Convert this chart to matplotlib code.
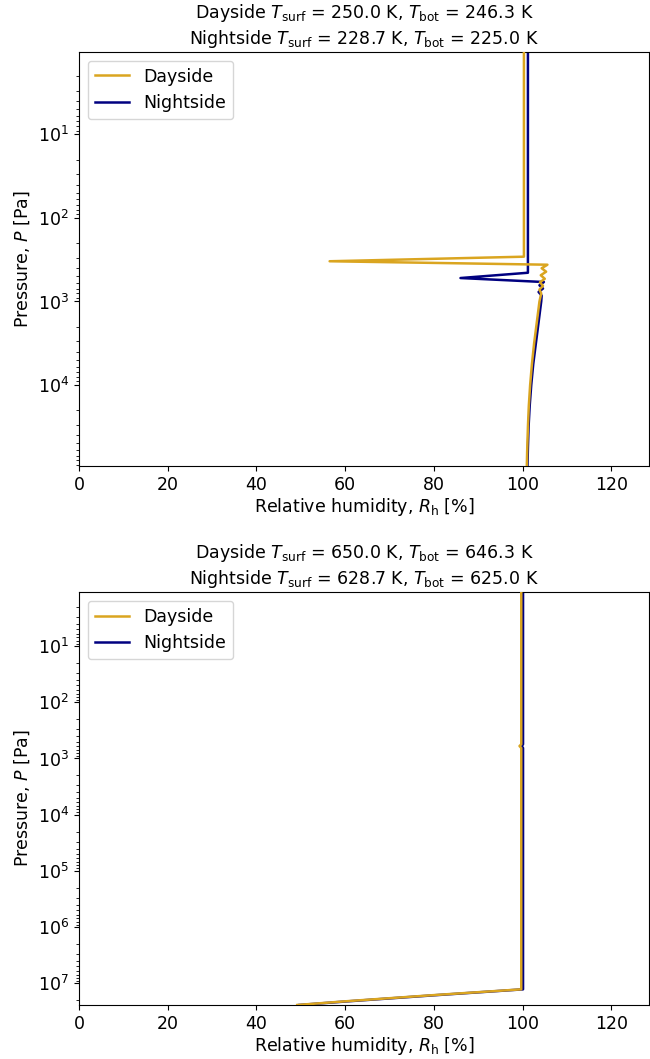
import matplotlib
matplotlib.use("Agg")
import matplotlib.pyplot as plt

# Cool case (T_surf = 250 K / 228.7 K)
cool_day_p = [1.03, 291, 330, 363, 400, 440, 485, 535, 590, 650, 720, 800,
              1000, 1780, 3160, 5620, 1.0e4, 1.78e4, 3.16e4, 5.62e4, 9.3e4]
cool_day_rh = [100.3, 100.3, 56.5, 105.6, 104.3, 105.3, 104.1, 105.0, 103.9,
               104.6, 103.8, 104.2, 103.8, 103.2, 102.6, 102.1, 101.7, 101.4,
               101.2, 101.05, 100.95]
cool_night_p = [1.03, 453, 524, 585, 640, 700, 770, 850, 1000, 1780, 3160,
                5620, 1.0e4, 1.78e4, 3.16e4, 5.62e4, 9.3e4]
cool_night_rh = [101.2, 101.2, 86.0, 104.8, 103.8, 104.6, 103.6, 104.3, 104.2,
                 103.6, 103.0, 102.4, 101.95, 101.6, 101.35, 101.2, 101.1]

# Hot case (T_surf = 650 K / 628.7 K)
hot_day_p = [1.09, 560, 600, 650, 1.28e7, 1.62e7, 2.09e7, 2.43e7]
hot_day_rh = [99.7, 99.7, 99.3, 99.7, 99.7, 80.0, 60.0, 49.2]
hot_night_p = [1.09, 560, 600, 650, 1.28e7, 1.63e7, 2.10e7, 2.43e7]
hot_night_rh = [100.1, 100.1, 99.8, 100.1, 100.1, 80.2, 60.3, 49.6]

titles = [
    "Dayside $T_\\mathrm{surf}$ = 250.0 K, $T_\\mathrm{bot}$ = 246.3 K\n"
    "Nightside $T_\\mathrm{surf}$ = 228.7 K, $T_\\mathrm{bot}$ = 225.0 K",
    "Dayside $T_\\mathrm{surf}$ = 650.0 K, $T_\\mathrm{bot}$ = 646.3 K\n"
    "Nightside $T_\\mathrm{surf}$ = 628.7 K, $T_\\mathrm{bot}$ = 625.0 K",
]

cases = [
    (cool_day_p, cool_day_rh, cool_night_p, cool_night_rh),
    (hot_day_p, hot_day_rh, hot_night_p, hot_night_rh),
]

plt.rcParams["font.size"] = 12.5

fig = plt.figure(figsize=(6.5, 10.59), dpi=100)
boxes = [[0.1215, 0.560, 0.877, 0.391], [0.1215, 0.051, 0.877, 0.390]]

for box, title, (dp, drh, np_, nrh) in zip(boxes, titles, cases):
    ax = fig.add_axes(box)
    ln, = ax.plot(nrh, np_, color="navy", lw=1.8, label="Nightside", zorder=2)
    ld, = ax.plot(drh, dp, color="goldenrod", lw=1.8, label="Dayside", zorder=3)
    ax.set_yscale("log")
    ax.set_ylim(max(dp + np_), min(dp + np_))
    ax.set_xlim(0, 128.5)
    ax.set_xticks([0, 20, 40, 60, 80, 100, 120])
    ax.set_xlabel("Relative humidity, $R_\\mathrm{h}$ [%]", labelpad=2)
    ax.set_ylabel("Pressure, $P$ [Pa]")
    ax.set_title(title, fontsize=12.5)
    ax.legend(handles=[ld, ln], loc="upper left")

fig.savefig("out.png", dpi=100)
